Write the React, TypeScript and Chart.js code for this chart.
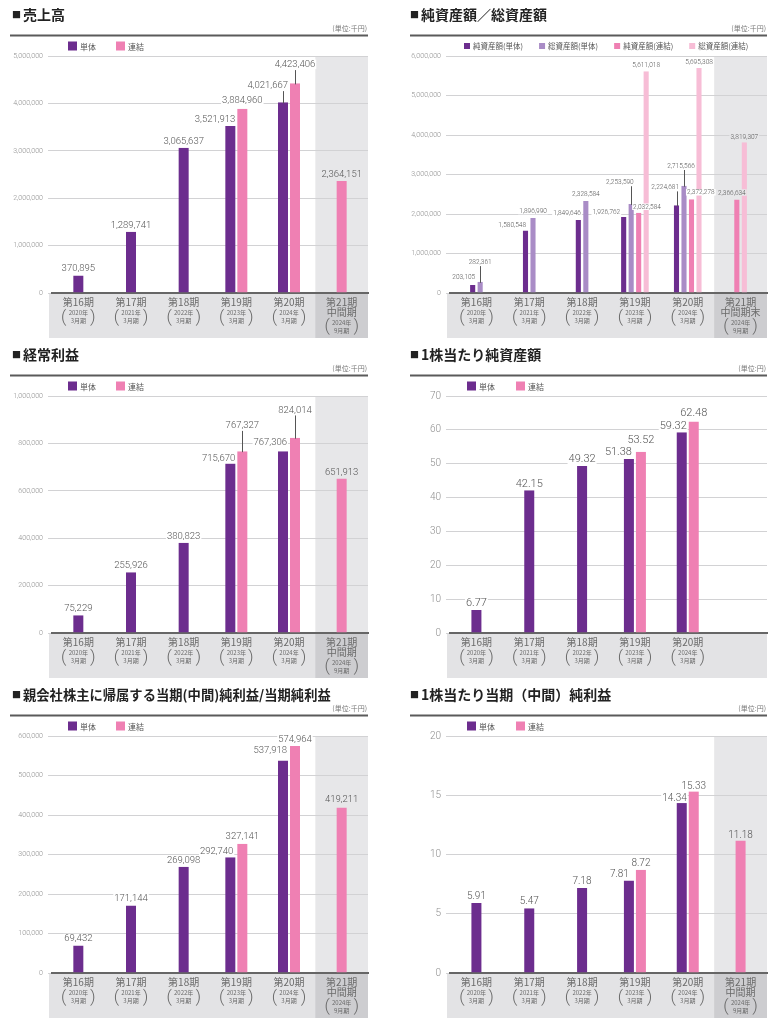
import React, { useEffect, useRef } from 'react';
import { Chart, registerables } from 'chart.js';

Chart.register(...registerables);

// ---------- categories ----------
const PERIODS = ['第16期', '第17期', '第18期', '第19期', '第20期', '第21期'];
const YEARS = ['2020年', '2021年', '2022年', '2023年', '2024年', '2024年'];
const MONTHS = ['3月期', '3月期', '3月期', '3月期', '3月期', '9月期'];
const INTERIM = '中間期';
const INTERIM_END = '中間期末';

const SINGLE = '単体';
const CONSOL = '連結';
const ASSET_NAMES = ['純資産額(単体)', '総資産額(単体)', '純資産額(連結)', '総資産額(連結)'];

// ---------- data ----------
// 売上高 (千円)
const salesSingle = [370895, 1289741, 3065637, 3521913, 4021667, null];
const salesConsol = [null, null, null, 3884960, 4423406, 2364151];
const salesTicks = [0, 1000000, 2000000, 3000000, 4000000, 5000000];

// 純資産額／総資産額 (千円)
const netAssetSingle = [203105, 1580548, 1849646, 1926762, 2224681, null];
const totalAssetSingle = [282361, 1896990, 2328584, 2253590, 2715566, null];
const netAssetConsol = [null, null, null, 2032584, 2372278, 2366634];
const totalAssetConsol = [null, null, null, 5611018, 5695308, 3819307];
const assetTicks = [0, 1000000, 2000000, 3000000, 4000000, 5000000, 6000000];

// 経常利益 (千円)
const ordinarySingle = [75229, 255926, 380823, 715670, 767306, null];
const ordinaryConsol = [null, null, null, 767327, 824014, 651913];
const ordinaryTicks = [0, 200000, 400000, 600000, 800000, 1000000];

// 1株当たり純資産額 (円)
const bpsSingle = [6.77, 42.15, 49.32, 51.38, 59.32, null];
const bpsConsol = [null, null, null, 53.52, 62.48, null];
const bpsTicks = [0, 10, 20, 30, 40, 50, 60, 70];

// 親会社株主に帰属する当期(中間)純利益/当期純利益 (千円)
const netIncomeSingle = [69432, 171144, 269098, 292740, 537918, null];
const netIncomeConsol = [null, null, null, 327141, 574964, 419211];
const netIncomeTicks = [0, 100000, 200000, 300000, 400000, 500000, 600000];

// 1株当たり当期(中間)純利益 (円)
const epsSingle = [5.91, 5.47, 7.18, 7.81, 14.34, null];
const epsConsol = [null, null, null, 8.72, 15.33, 11.18];
const epsTicks = [0, 5, 10, 15, 20];

// ---------- styles ----------
const PURPLE = '#6c2d8e';
const PINK = '#ef80b3';
const LIGHT_PURPLE = '#a98cc6';
const LIGHT_PINK = '#f7bdd6';
const GRID = '#d2d2d4';
const BAND = '#e3e3e5';
const SHADE = '#e7e7e9';
const SHADE_DARK = '#cdcdd0';
const JP = '"Noto Sans CJK JP", "Noto Sans", sans-serif';
const NUM = 'Roboto, "Noto Sans", sans-serif';

type Lbl = { a?: 'c' | 'r' | 'l'; lift?: number; lead?: boolean; dx?: number };
const P = (a: 'c' | 'r' | 'l', lift: number, lead = false, dx = 0): Lbl => ({ a, lift, lead, dx });
const N: Lbl = {};

type Series = { name: string; data: (number | null)[]; color: string; lbl: Lbl[] };
type Spec = {
  col: number;
  title: string;
  titleSize: number;
  unit: string;
  ticks: number[];
  series: Series[];
  shade: boolean;
  showLast: boolean;
  interim: string;
  lift: number;
  font: number;
  decimals: number;
  tickFont: number;
  barW: number;
  gap: number;
  legendSq: number;
  legendFont: number;
  legendStart: number;
  legendStep: number;
};

const sales: Spec = {
  col: 0, title: '売上高', titleSize: 14, unit: '(単位:千円)', ticks: salesTicks,
  series: [
    { name: SINGLE, data: salesSingle, color: PURPLE, lbl: [N, N, N, P('r', 7), P('r', 17, true), N] },
    { name: CONSOL, data: salesConsol, color: PINK, lbl: [N, N, N, P('c', 9), P('c', 19, true), P('c', 7)] },
  ],
  shade: true, showLast: true, interim: INTERIM, lift: 7, font: 9.5, decimals: 0, tickFont: 7,
  barW: 12, gap: 1, legendSq: 9, legendFont: 8, legendStart: 16, legendStep: 48,
};

const assets: Spec = {
  col: 1, title: '純資産額／総資産額', titleSize: 14, unit: '(単位:千円)', ticks: assetTicks,
  series: [
    { name: ASSET_NAMES[0], data: netAssetSingle, color: PURPLE, lbl: [P('r', 8), P('r', 6, false, -2), P('r', 7), P('r', 5, false, -6), P('r', 18, true), N] },
    { name: ASSET_NAMES[1], data: totalAssetSingle, color: LIGHT_PURPLE, lbl: [P('c', 20, true), P('c', 7), P('c', 7), P('r', 22, true), P('c', 20, true, -3), N] },
    { name: ASSET_NAMES[2], data: netAssetConsol, color: PINK, lbl: [N, N, N, P('l', 6, false, -3), P('l', 7, false, -2), P('c', 7, false, -5)] },
    { name: ASSET_NAMES[3], data: totalAssetConsol, color: LIGHT_PINK, lbl: [N, N, N, P('c', 6), P('c', 6), P('c', 5)] },
  ],
  shade: true, showLast: true, interim: INTERIM_END, lift: 7, font: 6.5, decimals: 0, tickFont: 7,
  barW: 7.5, gap: 1.2, legendSq: 6, legendFont: 7.5, legendStart: 14, legendStep: 0,
};

const ordinary: Spec = {
  col: 0, title: '経常利益', titleSize: 14, unit: '(単位:千円)', ticks: ordinaryTicks,
  series: [
    { name: SINGLE, data: ordinarySingle, color: PURPLE, lbl: [N, N, N, P('r', 5), P('r', 9, false, -1), N] },
    { name: CONSOL, data: ordinaryConsol, color: PINK, lbl: [N, N, N, P('c', 26, true), P('c', 28, true), P('c', 6)] },
  ],
  shade: true, showLast: true, interim: INTERIM, lift: 7, font: 9.5, decimals: 0, tickFont: 7,
  barW: 12, gap: 1, legendSq: 9, legendFont: 8, legendStart: 16, legendStep: 48,
};

const bps: Spec = {
  col: 1, title: '1株当たり純資産額', titleSize: 14, unit: '(単位:円)', ticks: bpsTicks,
  series: [
    { name: SINGLE, data: bpsSingle, color: PURPLE, lbl: [N, N, N, P('r', 7, false, -2), P('r', 6), N] },
    { name: CONSOL, data: bpsConsol, color: PINK, lbl: [N, N, N, P('c', 12), P('c', 9), N] },
  ],
  shade: false, showLast: false, interim: INTERIM, lift: 7, font: 11, decimals: 2, tickFont: 10,
  barW: 12, gap: 1, legendSq: 9, legendFont: 8, legendStart: 17, legendStep: 49,
};

const netIncome: Spec = {
  col: 0, title: '親会社株主に帰属する当期(中間)純利益/当期純利益', titleSize: 13.3, unit: '(単位:千円)', ticks: netIncomeTicks,
  series: [
    { name: SINGLE, data: netIncomeSingle, color: PURPLE, lbl: [N, N, N, P('r', 6, false, -2), P('r', 10, false, -1), N] },
    { name: CONSOL, data: netIncomeConsol, color: PINK, lbl: [N, N, N, P('c', 8), P('c', 7), P('c', 8)] },
  ],
  shade: true, showLast: true, interim: INTERIM, lift: 7, font: 9.5, decimals: 0, tickFont: 7,
  barW: 12, gap: 1, legendSq: 9, legendFont: 8, legendStart: 16, legendStep: 48,
};

const eps: Spec = {
  col: 1, title: '1株当たり当期（中間）純利益', titleSize: 14, unit: '(単位:円)', ticks: epsTicks,
  series: [
    { name: SINGLE, data: epsSingle, color: PURPLE, lbl: [N, N, N, P('r', 6, false, -5), P('r', 5), N] },
    { name: CONSOL, data: epsConsol, color: PINK, lbl: [N, N, N, P('c', 7), P('c', 5), P('c', 6)] },
  ],
  shade: true, showLast: true, interim: INTERIM, lift: 7, font: 10, decimals: 2, tickFont: 10,
  barW: 12, gap: 1, legendSq: 9, legendFont: 8, legendStart: 17, legendStep: 49,
};

const BAND_H = 45;

function fmt(v: number, decimals: number) {
  return decimals > 0 ? v.toFixed(decimals) : v.toLocaleString('en-US');
}

function panelPlugin(spec: Spec) {
  return {
    id: 'panelDecor',
    beforeDraw(chart: any) {
      const { ctx, chartArea: a, scales } = chart;
      const x = scales.x;
      ctx.save();
      ctx.fillStyle = '#ffffff';
      ctx.fillRect(0, 0, chart.width, chart.height);
      const bl = a.left - 3;
      ctx.fillStyle = BAND;
      ctx.fillRect(bl, a.bottom, a.right - bl, BAND_H);
      if (spec.shade) {
        const sx = x.getPixelForValue(4.5);
        ctx.fillStyle = SHADE;
        ctx.fillRect(sx, a.top, a.right - sx, a.bottom - a.top);
        ctx.fillStyle = SHADE_DARK;
        ctx.fillRect(sx, a.bottom, a.right - sx, BAND_H);
      }
      ctx.restore();
    },
    afterDatasetsDraw(chart: any) {
      const { ctx } = chart;
      ctx.save();
      ctx.font = `300 ${spec.font}px ${NUM}`;
      ctx.textBaseline = 'middle';
      const items: any[] = [];
      spec.series.forEach((s, di) => {
        const meta = chart.getDatasetMeta(di);
        s.data.forEach((v, i) => {
          if (v == null) return;
          const el = meta.data[i] as any;
          const st = s.lbl[i] || N;
          const a = st.a || 'c';
          const lift = st.lift ?? spec.lift;
          const dx = st.dx || 0;
          const half = el.width / 2 - spec.gap;
          const text = fmt(v, spec.decimals);
          const w = ctx.measureText(text).width;
          let left: number;
          if (a === 'r') left = el.x + half + dx - w;
          else if (a === 'l') left = el.x - half + dx;
          else left = el.x + dx - w / 2;
          const ty = el.y - lift;
          items.push({ text, left, w, ty, el, lead: st.lead, i });
        });
      });
      items.forEach((it) => {
        ctx.fillStyle = spec.shade && it.i === 5 ? SHADE : '#ffffff';
        ctx.fillRect(it.left - 1, it.ty - spec.font / 2, it.w + 2, spec.font);
      });
      ctx.strokeStyle = '#555555';
      ctx.lineWidth = 1;
      items.forEach((it) => {
        if (!it.lead) return;
        const lx = Math.round(it.el.x) + 0.5;
        ctx.beginPath();
        ctx.moveTo(lx, it.ty + spec.font / 2 + 1);
        ctx.lineTo(lx, it.el.y + 1);
        ctx.stroke();
      });
      ctx.fillStyle = '#555555';
      ctx.textAlign = 'left';
      items.forEach((it) => {
        ctx.fillText(it.text, it.left, it.ty + 0.5);
      });
      ctx.restore();
    },
    afterDraw(chart: any) {
      const { ctx, chartArea: a, scales } = chart;
      const x = scales.x;
      ctx.save();
      ctx.textBaseline = 'middle';
      // title
      const tx = spec.col === 0 ? 12 : 20;
      ctx.fillStyle = '#222222';
      ctx.textAlign = 'left';
      ctx.font = `9px ${JP}`;
      ctx.fillText('■', tx, 15);
      ctx.font = `bold ${spec.titleSize}px ${JP}`;
      ctx.fillText(spec.title, tx + 11, 15);
      // rule
      const rl = spec.col === 0 ? 10 : 20;
      ctx.fillStyle = '#5a5a5a';
      ctx.fillRect(rl, 34.5, a.right - rl, 2);
      // unit
      ctx.fillStyle = '#777777';
      ctx.font = `7px ${JP}`;
      ctx.textAlign = 'right';
      ctx.fillText(spec.unit, a.right - 1, 28);
      // legend
      let lx = a.left + spec.legendStart;
      const sq = spec.legendSq;
      spec.series.forEach((s) => {
        ctx.fillStyle = s.color;
        ctx.fillRect(lx, 46 - sq / 2, sq, sq);
        ctx.fillStyle = '#555555';
        ctx.font = `${spec.legendFont}px ${JP}`;
        ctx.textAlign = 'left';
        ctx.fillText(s.name, lx + sq + 3, 46.5);
        const tw = ctx.measureText(s.name).width;
        lx += spec.legendStep > 0 ? spec.legendStep : sq + 3 + tw + 16;
      });
      // category labels
      const b = a.bottom;
      ctx.textAlign = 'center';
      PERIODS.forEach((p, i) => {
        if (i === 5 && !spec.showLast) return;
        const cx = x.getPixelForValue(i);
        ctx.fillStyle = '#6a6a6a';
        ctx.font = `10px ${JP}`;
        ctx.fillText(p, cx, b + 9);
        let yy = b + 20;
        if (i === 5) {
          ctx.fillText(spec.interim, cx, b + 19.5);
          yy = b + 29.5;
        }
        ctx.font = `6px ${JP}`;
        ctx.fillText(YEARS[i], cx, yy);
        ctx.fillText(MONTHS[i], cx, yy + 8);
        ctx.font = `300 17px ${NUM}`;
        ctx.fillText('(', cx - 14.5, yy + 4.5);
        ctx.fillText(')', cx + 14.5, yy + 4.5);
      });
      ctx.restore();
    },
  };
}

function buildConfig(spec: Spec, h: number): any {
  const yAxisW = spec.col === 0 ? 52 : 60;
  const rightPad = spec.col === 0 ? 22 : 14;
  const bottomH = h - 293;
  const t = spec.ticks;
  return {
    type: 'bar',
    data: {
      labels: PERIODS,
      datasets: spec.series.map((s) => ({
        label: s.name,
        data: s.data,
        backgroundColor: s.color,
        borderColor: 'rgba(0,0,0,0)',
        borderWidth: { top: 0, bottom: 0, left: spec.gap, right: spec.gap },
        borderSkipped: false,
        barThickness: spec.barW,
        skipNull: true,
        inflateAmount: 0,
      })),
    },
    options: {
      responsive: false,
      animation: false,
      devicePixelRatio: 1,
      events: [],
      layout: { padding: { top: 56, right: rightPad, bottom: 0, left: 0 } },
      datasets: { bar: { skipNull: true } },
      plugins: { legend: { display: false }, title: { display: false }, tooltip: { enabled: false } },
      scales: {
        x: {
          offset: true,
          grid: { display: false, drawTicks: false },
          border: { display: true, color: '#666666', width: 2 },
          ticks: { display: false },
          afterFit: (s: any) => { s.height = bottomH; },
        },
        y: {
          min: t[0],
          max: t[t.length - 1],
          grid: { color: GRID, lineWidth: 1, tickLength: 4, drawTicks: true },
          border: { display: false },
          ticks: {
            stepSize: t[1] - t[0],
            color: '#8f8f8f',
            padding: 5,
            font: { family: NUM, size: spec.tickFont, weight: '300' },
            callback: (v: any) => Number(v).toLocaleString('en-US'),
          },
          afterFit: (s: any) => { s.width = yAxisW; },
        },
      },
    },
    plugins: [panelPlugin(spec)],
  };
}

function Panel({ spec, left, top, width, height }: { spec: Spec; left: number; top: number; width: number; height: number }) {
  const ref = useRef<HTMLCanvasElement>(null);
  useEffect(() => {
    const chart = new Chart(ref.current as HTMLCanvasElement, buildConfig(spec, height));
    return () => chart.destroy();
  }, [spec, height]);
  return (
    <canvas
      ref={ref}
      width={width}
      height={height}
      style={{ position: 'absolute', left, top, width, height, display: 'block' }}
    />
  );
}

export default function App() {
  return (
    <div style={{ position: 'absolute', left: 0, top: 0, width: 781, height: 1024, background: '#ffffff', overflow: 'hidden' }}>
      <Panel spec={sales} left={0} top={0} width={390} height={340} />
      <Panel spec={assets} left={390} top={0} width={391} height={340} />
      <Panel spec={ordinary} left={0} top={340} width={390} height={340} />
      <Panel spec={bps} left={390} top={340} width={391} height={340} />
      <Panel spec={netIncome} left={0} top={680} width={390} height={344} />
      <Panel spec={eps} left={390} top={680} width={391} height={344} />
    </div>
  );
}
